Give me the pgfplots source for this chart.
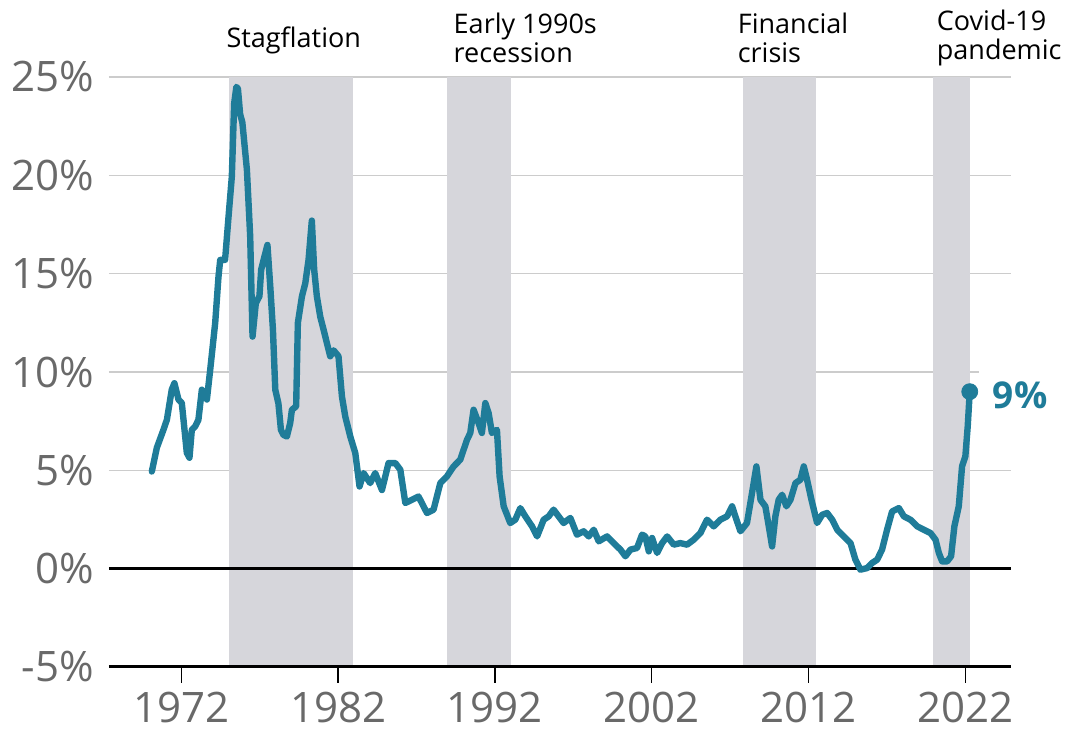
\documentclass[border=0pt]{standalone}
\usepackage{fontspec}
\setmainfont{Open Sans}
\usepackage{pgfplots}
\pgfplotsset{compat=1.18}
\definecolor{cpiline}{RGB}{31,124,153}
\definecolor{band}{RGB}{214,214,219}
\definecolor{gridgray}{RGB}{204,204,204}
\definecolor{ticktext}{RGB}{105,105,105}
\begin{document}
\begin{tikzpicture}
\begin{axis}[
  at={(0,0)}, anchor=south west,
  scale only axis,
  width=451pt, height=295pt,
  xmin=1967.4, xmax=2024.9,
  ymin=-5, ymax=25,
  clip=false,
  axis line style={draw=none},
  xtick={1972,1982,1992,2002,2012,2022},
  xticklabels={1972,1982,1992,2002,2012,2022},
  ytick={-5,0,5,10,15,20,25},
  yticklabels={-5\%,0\%,5\%,10\%,15\%,20\%,25\%},
  ymajorgrids=true,
  grid style={gridgray, line width=0.75pt},
  xtick pos=bottom,
  tick align=outside,
  major tick length=8pt,
  xtick style={black, line width=0.6pt},
  ytick style={draw=none},
  tick label style={font=\fontsize{21}{25}\selectfont, text=ticktext},
  xticklabel style={yshift=-1pt},
  yticklabel style={xshift=4pt},
  /pgf/number format/assume math mode=true,
]
% recession / crisis bands
\fill[band] (axis cs:1975.06,-5) rectangle (axis cs:1982.97,25);
\fill[band] (axis cs:1988.96,-5) rectangle (axis cs:1993.05,25);
\fill[band] (axis cs:2007.84,-5) rectangle (axis cs:2012.50,25);
\fill[band] (axis cs:2019.90,-5) rectangle (axis cs:2022.30,25);
% zero line and bottom axis line
\draw[black, line width=1.5pt] (axis cs:1967.4,0) -- (axis cs:2024.9,0);
\draw[black, line width=1.5pt] (axis cs:1967.4,-5) -- (axis cs:2024.9,-5);
% CPI inflation, annual rate
\addplot[cpiline, line width=3.2pt, line join=round, line cap=round] coordinates {
(1970.13,4.94) (1970.45,6.15) (1970.87,7.06) (1971.09,7.57) (1971.40,9.10)
(1971.57,9.43) (1971.83,8.60) (1972.04,8.43) (1972.15,7.57) (1972.36,5.89)
(1972.53,5.64) (1972.68,7.06) (1972.89,7.23) (1973.10,7.57) (1973.32,9.10)
(1973.64,8.60) (1973.85,10.10) (1974.17,12.50) (1974.38,14.85) (1974.49,15.70)
(1974.80,15.70) (1975.02,17.90) (1975.23,19.93) (1975.38,23.66) (1975.52,24.50)
(1975.62,24.40) (1975.76,23.10) (1975.90,22.70) (1976.19,20.30) (1976.40,16.90)
(1976.55,11.80) (1976.76,13.50) (1976.99,13.85) (1977.10,15.20) (1977.31,15.87)
(1977.50,16.46) (1977.68,14.35) (1977.85,12.15) (1978.00,9.10) (1978.20,8.40)
(1978.36,7.06) (1978.52,6.80) (1978.74,6.72) (1978.95,7.40) (1979.06,8.08)
(1979.33,8.25) (1979.44,12.50) (1979.70,13.85) (1979.91,14.50) (1980.12,15.70)
(1980.33,17.70) (1980.48,15.20) (1980.65,13.85) (1980.87,12.80) (1981.08,12.15)
(1981.29,11.47) (1981.50,10.80) (1981.72,11.10) (1982.03,10.80) (1982.25,8.75)
(1982.46,7.74) (1982.78,6.72) (1983.10,5.88) (1983.37,4.18) (1983.63,4.86)
(1984.05,4.35) (1984.37,4.86) (1984.80,4.00) (1985.22,5.37) (1985.65,5.37)
(1985.97,5.03) (1986.29,3.34) (1986.71,3.50) (1987.13,3.67) (1987.67,2.83)
(1988.09,3.00) (1988.52,4.35) (1988.94,4.69) (1989.37,5.20) (1989.79,5.54)
(1990.22,6.55) (1990.43,6.90) (1990.64,8.08) (1990.96,7.40) (1991.17,6.90)
(1991.39,8.42) (1991.60,7.91) (1991.81,6.90) (1992.13,7.06) (1992.30,4.69)
(1992.56,3.17) (1992.98,2.32) (1993.30,2.49) (1993.62,3.08) (1993.94,2.66)
(1994.37,2.15) (1994.69,1.64) (1995.11,2.49) (1995.43,2.66) (1995.74,3.00)
(1996.06,2.66) (1996.38,2.32) (1996.81,2.58) (1997.23,1.73) (1997.66,1.90)
(1997.98,1.64) (1998.30,1.98) (1998.62,1.39) (1999.15,1.64) (1999.57,1.30)
(2000.00,0.97) (2000.32,0.63) (2000.64,0.97) (2001.06,1.05) (2001.38,1.73)
(2001.59,1.64) (2001.81,0.88) (2002.02,1.56) (2002.34,0.80) (2002.66,1.30)
(2002.98,1.64) (2003.40,1.22) (2003.82,1.30) (2004.25,1.22) (2004.67,1.47)
(2005.10,1.81) (2005.52,2.49) (2005.95,2.15) (2006.37,2.49) (2006.80,2.66)
(2007.12,3.17) (2007.33,2.66) (2007.65,1.90) (2008.07,2.32) (2008.39,3.85)
(2008.67,5.20) (2008.93,3.50) (2009.24,3.17) (2009.46,2.15) (2009.67,1.13)
(2009.88,2.66) (2010.09,3.50) (2010.31,3.76) (2010.58,3.17) (2010.84,3.50)
(2011.16,4.35) (2011.47,4.52) (2011.69,5.20) (2011.90,4.52) (2012.18,3.50)
(2012.54,2.32) (2012.86,2.74) (2013.18,2.83) (2013.50,2.49) (2013.82,1.98)
(2014.24,1.64) (2014.67,1.30) (2014.98,0.46) (2015.30,-0.05) (2015.73,0.03)
(2016.05,0.29) (2016.37,0.46) (2016.68,0.97) (2017.00,1.98) (2017.32,2.91)
(2017.75,3.08) (2018.07,2.66) (2018.49,2.49) (2018.92,2.15) (2019.34,1.98)
(2019.77,1.81) (2020.09,1.47) (2020.30,0.80) (2020.51,0.37) (2020.83,0.37)
(2021.08,0.63) (2021.29,2.15) (2021.57,3.17) (2021.78,5.20) (2021.99,5.71)
(2022.14,7.23) (2022.27,9.00)
};
% latest reading
\addplot[cpiline, only marks, mark=*, mark size=4pt] coordinates {(2022.27,9.00)};
% annotations
\node[font=\fontsize{18.5}{22}\selectfont\bfseries, text=cpiline, fill=white,
      anchor=west, inner xsep=7pt, inner ysep=6pt] at (axis cs:2022.83,8.84) {9\%};
\node[font=\fontsize{13.5}{14.5}\selectfont, anchor=west, align=left, inner sep=0pt]
  at (axis cs:1974.87,26.88) {Stagflation};
\node[font=\fontsize{13.5}{14.5}\selectfont, anchor=west, align=left, inner sep=0pt]
  at (axis cs:1989.35,26.98) {Early 1990s\\recession};
\node[font=\fontsize{13.5}{14.5}\selectfont, anchor=west, align=left, inner sep=0pt]
  at (axis cs:2007.46,26.98) {Financial\\crisis};
\node[font=\fontsize{13.5}{14.5}\selectfont, anchor=west, align=left, inner sep=0pt]
  at (axis cs:2020.15,26.98) {Covid-19\\pandemic};
\end{axis}
\pgfresetboundingbox
\useasboundingbox (-54.5pt,-33pt) rectangle (481pt,333.5pt);
\end{tikzpicture}
\end{document}
